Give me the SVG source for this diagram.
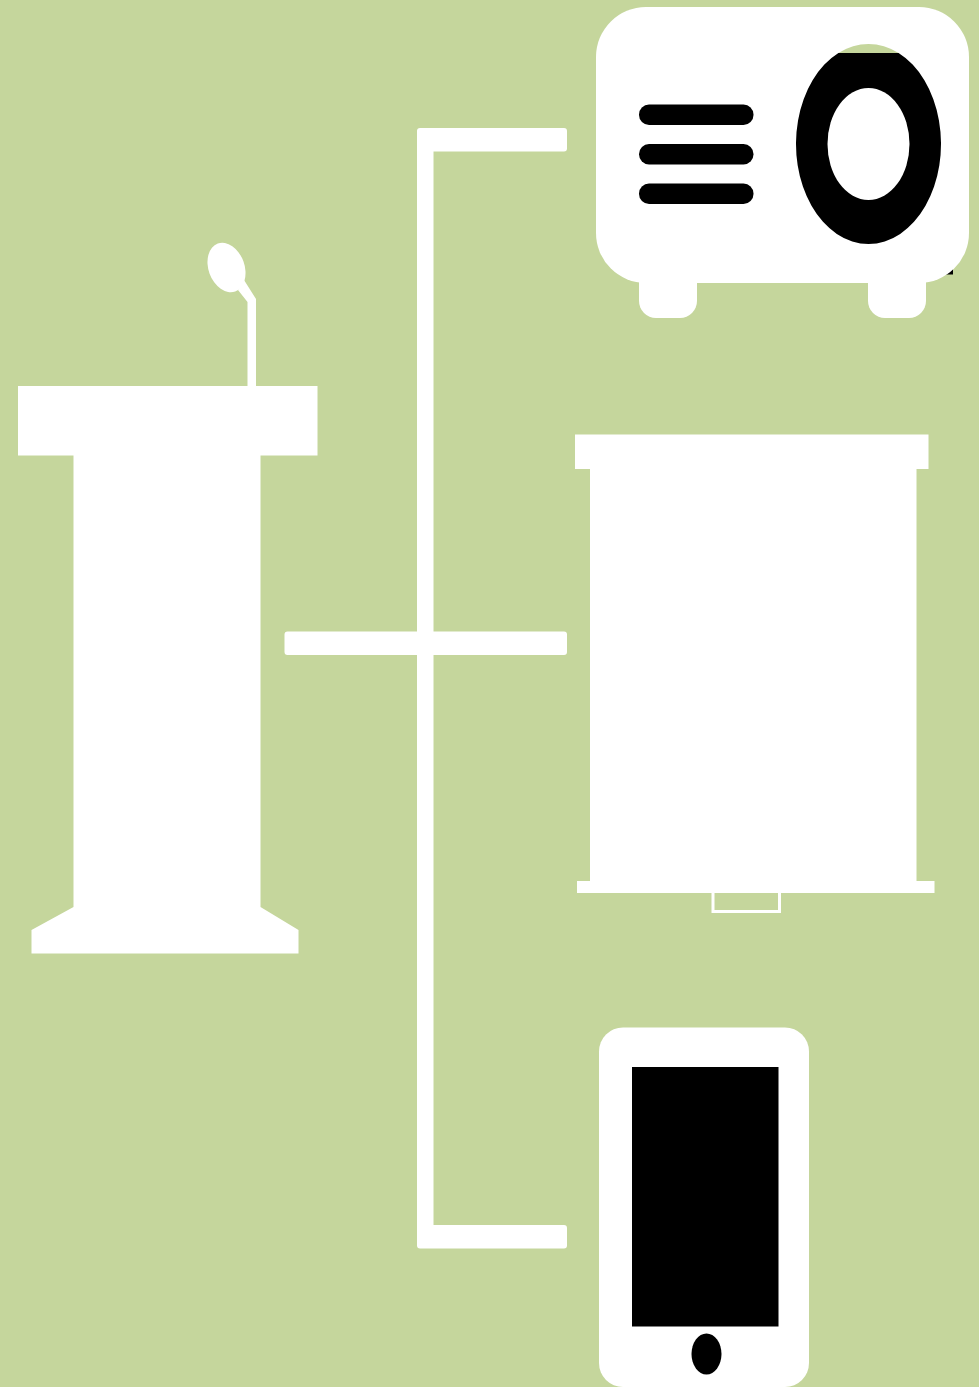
<svg xmlns="http://www.w3.org/2000/svg" width="979" height="1387" viewBox="0 0 979 1387">
<style>
.w{fill:#fff}
.k{fill:#000}
.g{fill:#c5d69c}
</style>
<rect width="979" height="1387" class="g"/>
<g id="connectors" class="w">
<path d="M420 128H564Q567 128 567 131V148.500Q567 151.500 564 151.500H433.500V631.500H564Q567 631.500 567 634.500V652Q567 655 564 655H433.500V1225H564Q567 1225 567 1228V1245.500Q567 1248.500 564 1248.500H420Q417 1248.500 417 1245.500V655H287.500Q284.500 655 284.500 652V634.500Q284.500 631.500 287.500 631.500H417V131Q417 128 420 128Z"/>
</g>
<g id="projector">
<path class="k" d="M949 271L953 267V274.500H945Z"/>
<rect class="w" x="639" y="250" width="58" height="68" rx="17"/>
<rect class="w" x="868" y="250" width="58" height="68" rx="17"/>
<rect class="w" x="596" y="7" width="373" height="276" rx="50"/>
<path class="g" d="M838.400 53A72.500 100 0 0 1 898.600 53Z"/>
<path class="k" d="M838.400 53A72.500 100 0 1 0 898.600 53Z"/>
<ellipse class="w" cx="868.500" cy="144" rx="41" ry="56"/>
<rect class="k" x="639" y="104.500" width="114.500" height="20.500" rx="10"/>
<rect class="k" x="639" y="144" width="114.500" height="20.500" rx="10"/>
<rect class="k" x="639" y="183.500" width="114.500" height="20.500" rx="10"/>
</g>
<g id="screen">
<rect class="w" x="575" y="434.500" width="353.500" height="34.500"/>
<rect class="w" x="590" y="460" width="326.500" height="425"/>
<rect class="w" x="577" y="881" width="357.500" height="12"/>
<path class="w" d="M711.500 892H781V913H711.500ZM714.500 892V910H778V892Z" fill-rule="evenodd"/>
</g>
<g id="podium">
<ellipse class="w" cx="226.500" cy="267.500" rx="18" ry="25.500" transform="rotate(-20 226.500 267.500)"/>
<path class="w" d="M238 290L244 280L256 299V387H247.500V302Z"/>
<path class="w" d="M18 386H317.500V455.500H260.500V907L298.500 930V953.500H31.500V930L73.500 907V455.500H18Z"/>
</g>
<g id="tablet">
<rect class="w" x="599" y="1027.500" width="210" height="359.500" rx="24"/>
<rect class="k" x="632" y="1067" width="146.500" height="259.500"/>
<ellipse class="k" cx="706.500" cy="1354" rx="15" ry="20.500"/>
</g>
</svg>
